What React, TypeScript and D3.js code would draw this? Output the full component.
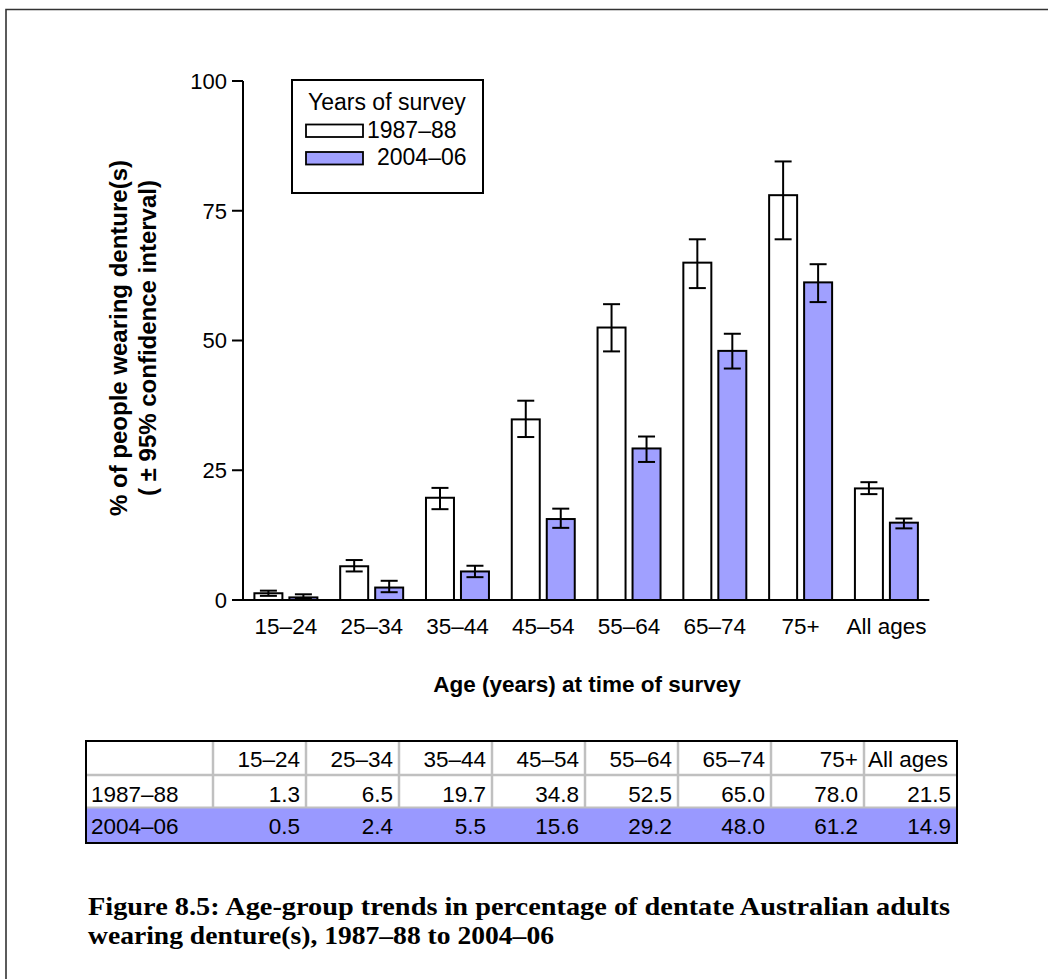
import * as d3 from "d3";

const ageGroups = ["15–24", "25–34", "35–44", "45–54", "55–64", "65–74", "75+", "All ages"];
const surveys = ["1987–88", "2004–06"];

const values1987 = [1.3, 6.5, 19.7, 34.8, 52.5, 65.0, 78.0, 21.5];
const values2004 = [0.5, 2.4, 5.5, 15.6, 29.2, 48.0, 61.2, 14.9];

// 95% CI bounds
const ciLow1987 = [0.8, 5.5, 17.5, 31.4, 47.9, 60.1, 69.5, 20.4];
const ciHigh1987 = [1.8, 7.7, 21.6, 38.4, 57.0, 69.5, 84.5, 22.7];
const ciLow2004 = [0.2, 1.5, 4.4, 13.9, 26.6, 44.6, 57.4, 13.8];
const ciHigh2004 = [1.1, 3.7, 6.6, 17.6, 31.5, 51.3, 64.7, 15.7];

const yTicks = [0, 25, 50, 75, 100];

const FILL = ["#ffffff", "#a0a0ff"];
const ROW_FILL = "#9999ff";
const SANS = "'Liberation Sans', Arial, sans-serif";
const SERIF = "'Liberation Serif', 'DejaVu Serif', serif";

export default function App() {
  const W = 1048;
  const H = 979;

  const x0 = d3.scaleBand<string>().domain(ageGroups).range([243, 929.3]);
  const x1 = d3
    .scaleBand<string>()
    .domain(surveys)
    .range([0, x0.bandwidth()])
    .paddingInner(0.2)
    .paddingOuter(0.326);
  const y = d3.scaleLinear().domain([0, 100]).range([600, 81]);

  const series = [
    { name: surveys[0], vals: values1987, lo: ciLow1987, hi: ciHigh1987 },
    { name: surveys[1], vals: values2004, lo: ciLow2004, hi: ciHigh2004 },
  ];

  // table geometry
  const tLeft = 86;
  const tTop = 741;
  const tRight = 957;
  const firstCol = 213;
  const colW = (tRight - firstCol) / ageGroups.length;
  const rowTops = [741, 775, 807.5, 843];
  const colX = (i: number) => firstCol + i * colW;

  return (
    <svg
      width={W}
      height={H}
      style={{ position: "absolute", left: 0, top: 0, background: "#fff" }}
    >
      {/* outer frame */}
      <path d={`M6,${H + 5} V9.5 H${W + 5}`} fill="none" stroke="#333" strokeWidth={1.6} />

      {/* bars */}
      {series.map((s, si) =>
        ageGroups.map((g, i) => {
          const bx = (x0(g) || 0) + (x1(s.name) || 0);
          const bw = x1.bandwidth();
          const cx = bx + bw / 2;
          return (
            <g key={`${si}-${i}`}>
              <rect
                x={bx}
                y={y(s.vals[i])}
                width={bw}
                height={y(0) - y(s.vals[i])}
                fill={FILL[si]}
                stroke="#000"
                strokeWidth={2}
              />
              <line x1={cx} x2={cx} y1={y(s.hi[i])} y2={y(s.lo[i])} stroke="#000" strokeWidth={2} />
              <line x1={cx - 8.5} x2={cx + 8.5} y1={y(s.hi[i])} y2={y(s.hi[i])} stroke="#000" strokeWidth={2} />
              <line x1={cx - 8.5} x2={cx + 8.5} y1={y(s.lo[i])} y2={y(s.lo[i])} stroke="#000" strokeWidth={2} />
            </g>
          );
        })
      )}

      {/* y axis */}
      <line x1={243} x2={243} y1={y(100)} y2={y(0)} stroke="#000" strokeWidth={2} />
      {yTicks.map((t) => (
        <g key={t}>
          <line x1={232} x2={243} y1={y(t)} y2={y(t)} stroke="#000" strokeWidth={2} />
          <text
            x={227}
            y={y(t)}
            dy="0.36em"
            textAnchor="end"
            fontFamily={SANS}
            fontSize={22}
            fill="#000"
          >
            {t}
          </text>
        </g>
      ))}

      {/* x axis */}
      <line x1={243} x2={929.3} y1={y(0)} y2={y(0)} stroke="#000" strokeWidth={2} />
      {ageGroups.map((g) => (
        <text
          key={g}
          x={(x0(g) || 0) + x0.bandwidth() / 2}
          y={634}
          textAnchor="middle"
          fontFamily={SANS}
          fontSize={22.5}
          fill="#000"
        >
          {g}
        </text>
      ))}
      <text x={587} y={692} textAnchor="middle" fontFamily={SANS} fontSize={22.5} fontWeight="bold">
        Age (years) at time of survey
      </text>

      {/* y title */}
      <g transform="translate(127,338) rotate(-90)">
        <text x={0} y={0} textAnchor="middle" fontFamily={SANS} fontSize={24} fontWeight="bold">
          % of people wearing denture(s)
        </text>
        <text x={0} y={29} textAnchor="middle" fontFamily={SANS} fontSize={24} fontWeight="bold">
          ( ± 95% confidence interval)
        </text>
      </g>

      {/* legend */}
      <rect x={292} y={80} width={191} height={113} fill="#fff" stroke="#000" strokeWidth={2} />
      <text x={308} y={110} fontFamily={SANS} fontSize={23}>
        Years of survey
      </text>
      {surveys.map((s, si) => (
        <g key={s}>
          <rect
            x={306}
            y={124.5 + si * 27.5}
            width={57}
            height={12.5}
            fill={FILL[si]}
            stroke="#000"
            strokeWidth={1.8}
          />
          <text x={si === 0 ? 367 : 377} y={137.5 + si * 27.5} fontFamily={SANS} fontSize={23}>
            {s}
          </text>
        </g>
      ))}

      {/* data table */}
      <rect x={tLeft} y={rowTops[2]} width={tRight - tLeft} height={rowTops[3] - rowTops[2]} fill={ROW_FILL} />
      {ageGroups.map((g, i) => (
        <line
          key={`v${i}`}
          x1={colX(i)}
          x2={colX(i)}
          y1={tTop}
          y2={rowTops[2]}
          stroke="#c0c0c0"
          strokeWidth={2.5}
        />
      ))}
      <line x1={tLeft} x2={tRight} y1={rowTops[1]} y2={rowTops[1]} stroke="#c0c0c0" strokeWidth={2.5} />
      <line x1={tLeft} x2={tRight} y1={rowTops[2]} y2={rowTops[2]} stroke="#c0c0c0" strokeWidth={2} />
      <rect
        x={tLeft}
        y={tTop}
        width={tRight - tLeft}
        height={rowTops[3] - tTop}
        fill="none"
        stroke="#000"
        strokeWidth={2}
      />
      {ageGroups.map((g, i) => (
        <text
          key={`h${i}`}
          x={colX(i + 1) - (g === "All ages" ? 9 : 6)}
          y={767}
          textAnchor="end"
          fontFamily={SANS}
          fontSize={22.5}
        >
          {g}
        </text>
      ))}
      {series.map((s, si) => (
        <g key={`row${si}`}>
          <text x={91} y={801.5 + si * 32} fontFamily={SANS} fontSize={22.5}>
            {s.name}
          </text>
          {s.vals.map((v, i) => (
            <text
              key={i}
              x={colX(i + 1) - 6}
              y={801.5 + si * 32}
              textAnchor="end"
              fontFamily={SANS}
              fontSize={22.5}
            >
              {d3.format(".1f")(v)}
            </text>
          ))}
        </g>
      ))}

      {/* caption */}
      <text x={88} y={915} fontFamily={SERIF} fontSize={25} fontWeight="bold" textLength={862} lengthAdjust="spacingAndGlyphs">
        Figure 8.5: Age-group trends in percentage of dentate Australian adults
      </text>
      <text x={88} y={944} fontFamily={SERIF} fontSize={25} fontWeight="bold" textLength={466} lengthAdjust="spacingAndGlyphs">
        wearing denture(s), 1987–88 to 2004–06
      </text>
    </svg>
  );
}
